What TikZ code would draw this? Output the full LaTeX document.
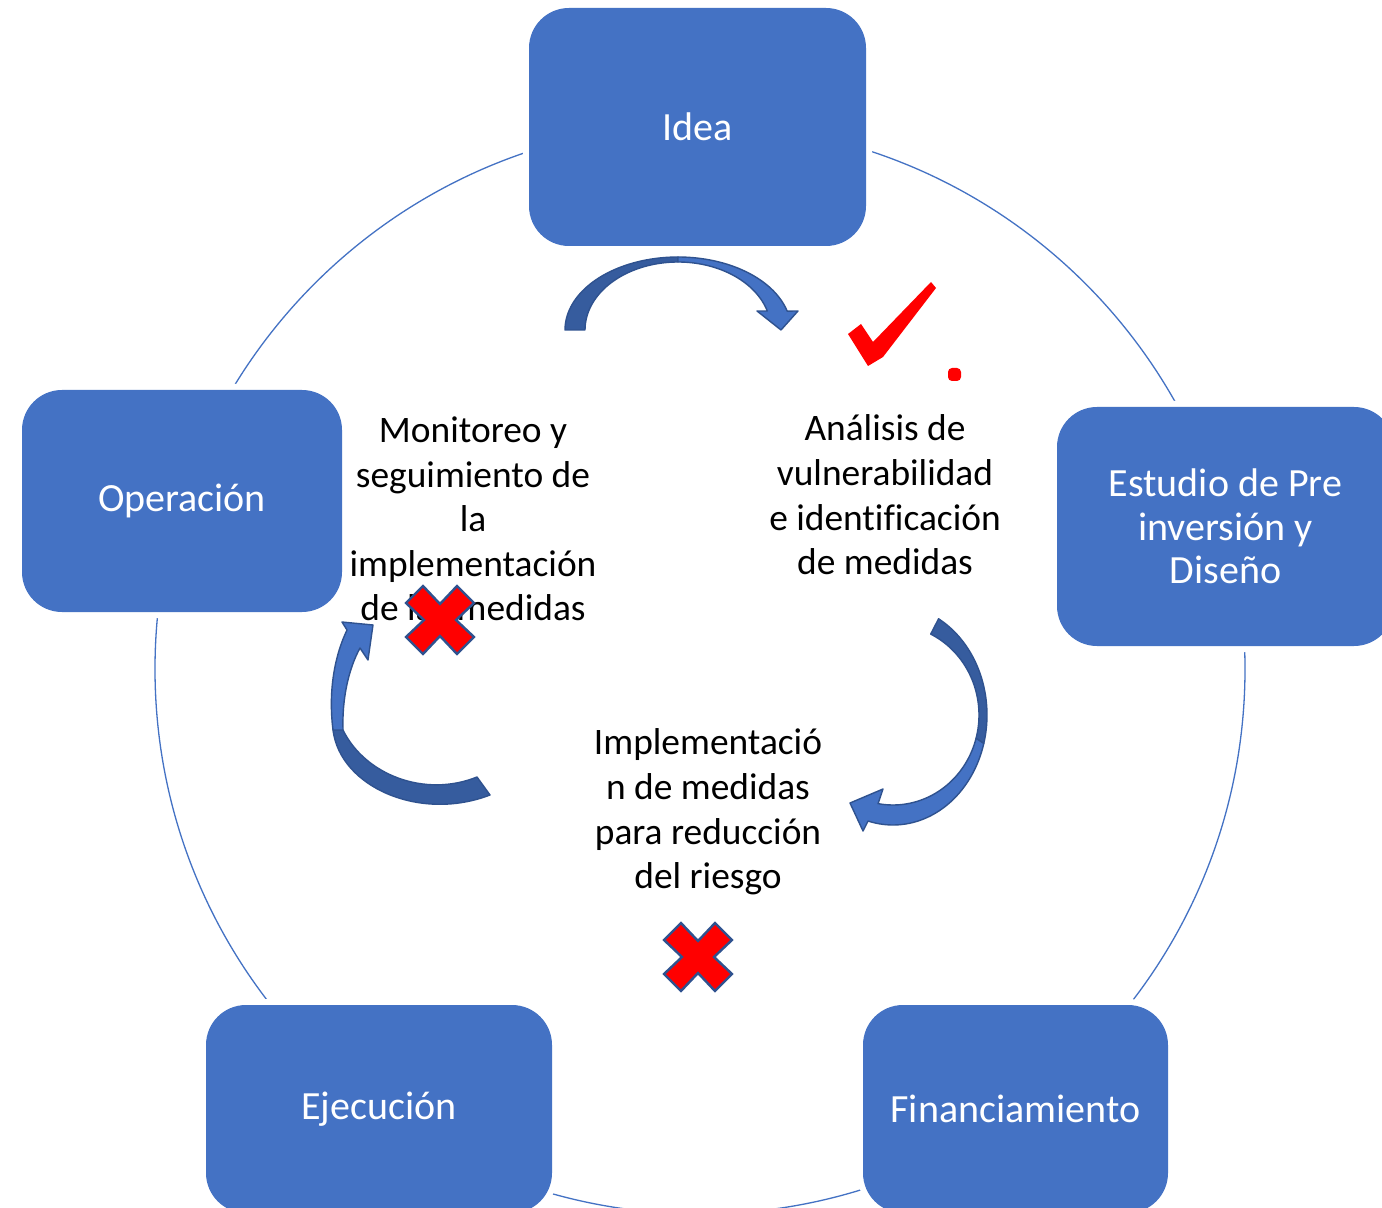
\documentclass[tikz,border=0pt]{standalone}
\usepackage{fontspec}
\setmainfont[Ligatures=NoCommon]{Carlito}
\definecolor{oblue}{HTML}{4472C4}
\definecolor{odark}{HTML}{365C9E}
\definecolor{oline}{HTML}{2F528F}
\newcommand\diagfont{\fontsize{18.7}{22.3}\selectfont}
\newcommand\boxfont{\fontsize{20}{21.8}\selectfont}
\begin{document}
\begin{tikzpicture}[x=0.5pt,y=-0.5pt,
  boxnode/.style={fill=oblue, text=white, rounded corners=20pt, inner sep=0pt,
    align=center, font=\boxfont, preaction={draw=white, line width=6pt}},
  innertext/.style={align=center, font=\diagfont, inner sep=0pt, text=black},
  arrowdark/.style={fill=odark, draw=oline, line width=0.7pt, line join=round},
  arrowlight/.style={fill=oblue, draw=oline, line width=0.7pt, line join=round},
  crossmark/.style={fill=red, draw=oline, line width=1.2pt, line join=miter},
  ringline/.style={draw=oblue, line width=0.65pt}]
\useasboundingbox (0,0) rectangle (1382,1208);
\clip (0,0) rectangle (1382,1208);
\fill[white] (0,0) rectangle (1382,1208);

% ring
\coordinate (ringc) at (700,669);
\draw[ringline] (ringc) circle[radius=272.5pt];

% boxes
\node[boxnode, minimum width=168.5pt, minimum height=119pt] (idea) at (697.5,127) {Idea};
\node[boxnode, minimum width=168.5pt, minimum height=119.5pt] (estudio) at (1225.5,526.5) {Estudio de Pre\\inversión y\\Diseño};
\node[boxnode, minimum width=152.5pt, minimum height=104pt] (finan) at (1015.5,1109) {Financiamiento};
\node[boxnode, minimum width=173pt, minimum height=104pt] (ejec) at (379,1109) {Ejecución};
\node[boxnode, minimum width=160pt, minimum height=111pt] (oper) at (182,501) {Operación};

% top curved arrow
\path[arrowdark] plot[domain=180:90,samples=40] ({678+113*cos(\x)},{330-73*sin(\x)})
  -- plot[domain=90:180,samples=40] ({678+93*cos(\x)},{330-68*sin(\x)}) -- cycle;
\path[arrowlight] plot[domain=90:15,samples=40] ({678+113*cos(\x)},{330-73*sin(\x)})
  -- (798,311) -- (781,330) -- (757,311)
  -- plot[domain=16.2:90,samples=40] ({678+93*cos(\x)},{330-68*sin(\x)}) -- cycle;

% right curved arrow
\path[arrowdark] plot[domain=61:-15,samples=40] ({893+94*cos(\x)},{715-110*sin(\x)})
  -- plot[domain=-15:64,samples=40] ({893+86*cos(\x)},{715-90*sin(\x)}) -- cycle;
\path[arrowlight] plot[domain=-15:-105.4,samples=40] ({893+94*cos(\x)},{715-110*sin(\x)})
  -- (863,831) -- (850,803) -- (883,789)
  -- plot[domain=-100:-15,samples=40] ({893+86*cos(\x)},{715-90*sin(\x)}) -- cycle;

% left curved arrow
\path[arrowdark] (333,730) .. controls (340,787) and (420,822) .. (490,795)
  -- (477,777) .. controls (425,798) and (365,775) .. (343,730) -- cycle;
\path[arrowlight] (333,730) .. controls (328,690) and (335,655) .. (347,630)
  -- (342,622) -- (373,625) -- (368,660) -- (360,648)
  .. controls (348,670) and (342,700) .. (343,730) -- cycle;

% inner texts
\node[innertext] (mon) at (473,519) {Monitoreo y\\seguimiento de\\la\\implementación\\de las medidas};
\node[innertext] (ana) at (885,495) {Análisis de\\vulnerabilidad\\e identificación\\de medidas};
\node[innertext] (imp) at (708,812) {Implementació\\n de medidas\\para reducción\\del riesgo};

% crosses
\draw[crossmark, shift={(440,620)}] (0,-16) -- (17,-34) -- (34,-17) -- (16,0) -- (34,17) -- (17,34)
  -- (0,16) -- (-17,34) -- (-34,17) -- (-16,0) -- (-34,-17) -- (-17,-34) -- cycle;
\draw[crossmark, shift={(698,957)}] (0,-16) -- (17,-34) -- (34,-17) -- (16,0) -- (34,17) -- (17,34)
  -- (0,16) -- (-17,34) -- (-34,17) -- (-16,0) -- (-34,-17) -- (-17,-34) -- cycle;

% check mark and dot
\fill[red, line join=round] (848,334) -- (861,324) -- (873,342) -- (931,282) -- (936,288)
  -- (883,357) -- (868,366) -- cycle;
\fill[red, rounded corners=2pt] (948,368) rectangle (961,381);
\end{tikzpicture}
\end{document}
